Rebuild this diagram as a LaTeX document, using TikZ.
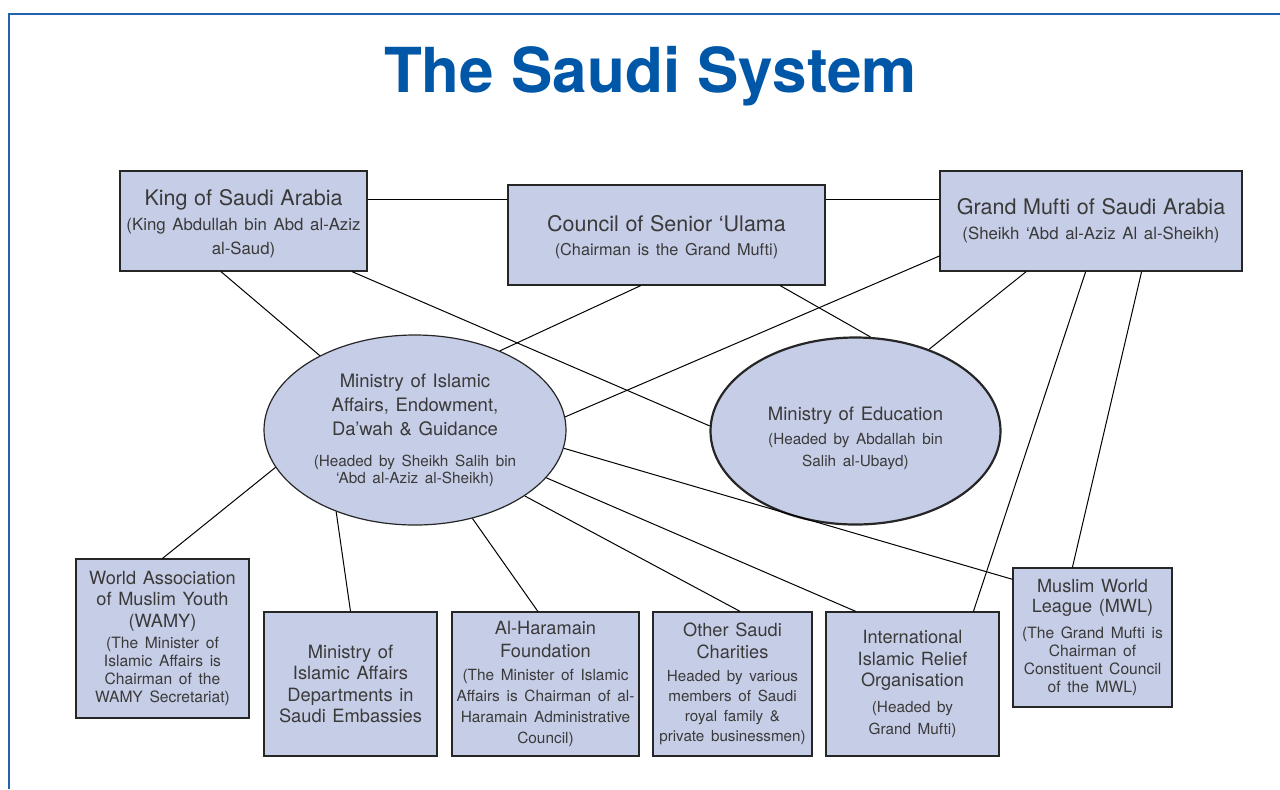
\documentclass[tikz,border=0pt]{standalone}
\usepackage{fontspec}
\setmainfont{TeX Gyre Heros}
\usetikzlibrary{shapes.geometric,shadows}
\definecolor{titleblue}{HTML}{0057A8}
\definecolor{boxfill}{HTML}{C6CDE6}
\definecolor{boxtext}{HTML}{3A3A3A}
\definecolor{framecol}{HTML}{2262B0}
\setlength{\parindent}{0pt}
% heading lines and the smaller note lines of a box: [gap] {size} {skip} {text}
\newcommand{\headtext}[3]{{\fontsize{#1}{#2}\selectfont #3\par}}
\newcommand{\subtext}[4][0pt]{\vspace{#1}{\fontsize{#2}{#3}\selectfont #4\par}}
% taller first line, to push a box's text down
\newcommand{\lowerby}[1]{\rule{0pt}{#1}}
\begin{document}
\begin{tikzpicture}[x=0.5pt, y=-0.5pt,
    orgbox/.style={draw=black!85, line width=0.6pt, fill=boxfill, text=boxtext, align=center, inner sep=1pt,
        drop shadow={shadow xshift=0.5pt, shadow yshift=-0.5pt, fill=black!70, opacity=0.7}},
    orgoval/.style={ellipse, draw=black!85, line width=0.6pt, fill=boxfill, text=boxtext, align=center, inner sep=0pt},
    link/.style={line width=0.5pt, black}]
    \useasboundingbox (0,0) rectangle (1280,789);
    \draw [framecol, line width=1pt] (1280,14) -- (8.5,14) -- (8.5,789);
    \node[anchor=base, text=titleblue, font=\fontsize{31}{31}\selectfont\bfseries] (title) at (650.5,92) {The Saudi System};

    % top row
    \node[orgbox, minimum width=123.5pt, minimum height=50pt, text width=121pt] (king) at (243.5,221)
        {\headtext{10.75}{12}{\lowerby{10.9pt}King of Saudi Arabia}\subtext[0.5pt]{8.4}{12}{(King Abdullah bin Abd al-Aziz\\al-Saud)}};
    \node[orgbox, minimum width=158.5pt, minimum height=50pt, text width=156pt] (council) at (666.5,235)
        {\headtext{10.75}{12}{\lowerby{9.9pt}Council of Senior ‘Ulama}\subtext{8.15}{12}{(Chairman is the Grand Mufti)}};
    \node[orgbox, minimum width=151pt, minimum height=50pt, text width=148pt] (mufti) at (1091,221)
        {\headtext{10.75}{12}{Grand Mufti of Saudi Arabia}\subtext{8.4}{12.5}{(Sheikh ‘Abd al-Aziz Al al-Sheikh)}};

    % ministries
    \node[orgoval, minimum width=151pt, minimum height=95pt, text width=104pt] (mia) at (415,430)
        {\headtext{9.25}{12}{Ministry of Islamic\\Affairs, Endowment,\\Da’wah \& Guidance}\subtext[7pt]{7.65}{8.5}{(Headed by Sheikh Salih bin\\‘Abd al-Aziz al-Sheikh)}};
    \node[orgoval, line width=1.1pt, minimum width=145pt, minimum height=93.5pt, text width=100pt] (moe) at (855.5,431)
        {\headtext{9.25}{12}{\lowerby{13.8pt}Ministry of Education}\subtext[1pt]{7.65}{11}{(Headed by Abdallah bin\\Salih al-Ubayd)}};

    % bottom row
    \node[orgbox, minimum width=86.5pt, minimum height=79.5pt, text width=84pt] (wamy) at (162.5,638.5)
        {\headtext{9.1}{10.75}{World Association\\of Muslim Youth\\(WAMY)}\subtext[1.5pt]{7.8}{9}{(The Minister of\\Islamic Affairs is\\Chairman of the\\WAMY Secretariat)}};
    \node[orgbox, minimum width=86.5pt, minimum height=72pt, text width=84pt] (embassy) at (350.5,684)
        {\headtext{9.15}{10.7}{Ministry of\\Islamic Affairs\\Departments in\\Saudi Embassies}};
    \node[orgbox, minimum width=93.5pt, minimum height=72pt, text width=91pt] (haramain) at (545.5,684)
        {\headtext{9.1}{11.5}{Al-Haramain\\Foundation}\subtext[1pt]{7.7}{10.5}{(The Minister of Islamic\\Affairs is Chairman of al-\\Haramain Administrative\\Council)}};
    \node[orgbox, minimum width=79.5pt, minimum height=72pt, text width=77pt] (charity) at (732.5,684)
        {\headtext{9.1}{11}{Other Saudi\\Charities}\subtext[1.5pt]{7.6}{10}{Headed by various\\members of Saudi\\royal family \&\\private businessmen)}};
    \node[orgbox, minimum width=86.5pt, minimum height=72pt, text width=84pt] (iiro) at (912.5,684)
        {\headtext{9.1}{10.75}{International\\Islamic Relief\\Organisation}\subtext[2pt]{7.65}{11}{(Headed by\\Grand Mufti)}};
    \node[orgbox, minimum width=79.5pt, minimum height=69.5pt, text width=77pt] (mwl) at (1092.5,637.5)
        {\headtext{9.05}{10}{Muslim World\\League (MWL)}\subtext[4pt]{7.8}{9}{(The Grand Mufti is\\Chairman of\\Constituent Council\\of the MWL)}};

    % links
    \draw [link] ([yshift=11pt]king.east) -- ([yshift=11pt]king.east -| council.west);
    \draw [link] ([yshift=11pt]king.east -| council.east) -- ([yshift=11pt]king.east -| mufti.west);
    \draw [link] (king.-114.2) -- (mia.142.2);
    \draw [link] (king.-25.2) -- (moe.178.8);
    \draw [link] (council.-117) -- (mia.43.6);
    \draw [link] (council.-24.2) -- (moe.81.1);
    \draw [link] (mufti.193.4) -- (mia.5.7);
    \draw [link] (mufti.-142.4) -- (moe.48.2);
    \draw [link] (mufti.-96.8) -- (iiro.50.9);
    \draw [link] (mufti.-45) -- (mwl.106.4);
    \draw [link] (mia.195.7) -- (wamy.north);
    \draw [link] (mia.-134.3) -- (embassy.north);
    \draw [link] (mia.-57.5) -- (haramain.96);
    \draw [link] (mia.-31.6) -- (charity.84);
    \draw [link] (mia.-20.3) -- (iiro.128.1);
    \draw [link] (mia.-7.5) -- (mwl.144.1);
\end{tikzpicture}
\end{document}
